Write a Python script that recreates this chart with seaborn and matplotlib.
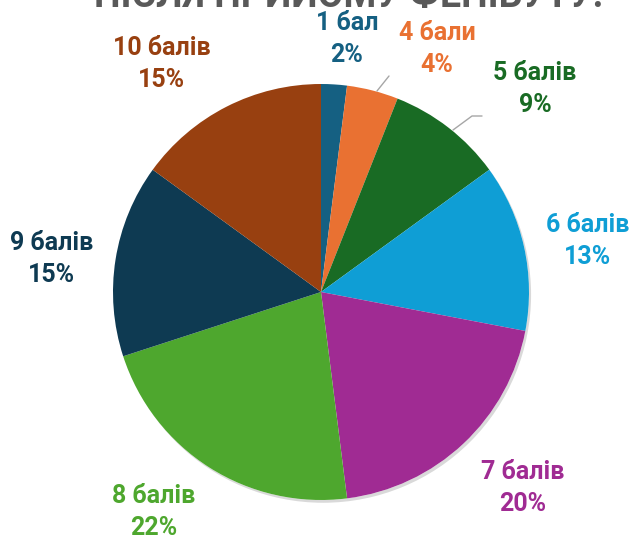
import matplotlib
matplotlib.use("Agg")
import matplotlib.pyplot as plt
import matplotlib.patheffects as pe
from matplotlib.patches import Circle
import seaborn as sns

sns.set_theme(style="white")
plt.rcParams["font.family"] = ["Roboto", "DejaVu Sans"]

# Scores and their shares (%), clockwise from 12 o'clock
categories = ["1 бал", "4 бали", "5 балів", "6 балів", "7 балів", "8 балів", "9 балів", "10 балів"]
shares = [2, 4, 9, 13, 20, 22, 15, 15]
colors = ["#156082", "#E97132", "#196B24", "#0F9ED5", "#A02B93", "#4EA72E", "#0E3A52", "#984010"]
title = "ПІСЛЯ ПРИЙОМУ ФЕНІБУТУ:"

W, H = 633, 539
fig = plt.figure(figsize=(W / 100, H / 100), dpi=100)
ax = fig.add_axes([0, 0, 1, 1])

cx, cy, r = 321, H - 292, 208

# soft drop shadow under the whole pie
shadow = Circle((cx, cy), r, facecolor="white", edgecolor="none", zorder=0)
shadow.set_path_effects([
    pe.SimplePatchShadow(offset=(1.5, -2), shadow_rgbFace="#000000", alpha=0.15),
    pe.Normal(),
])
ax.add_patch(shadow)

ax.pie(
    shares, colors=colors, startangle=90, counterclock=False,
    center=(cx, cy), radius=r, frame=True,
    wedgeprops=dict(linewidth=0.3, edgecolor="none", antialiased=True),
)
ax.set_xlim(0, W)
ax.set_ylim(0, H)
ax.set_aspect("equal")
ax.axis("off")

# label centres, in pixel units from the top-left
label_pos = [(347, 39), (437, 49), (535, 89), (588, 241),
             (523, 488), (154, 512), (52, 259), (162, 64)]
for name, val, col, (x, y) in zip(categories, shares, colors, label_pos):
    ax.text(x, H - y, f"{name}\n{val}%", color=col, fontsize=18, fontweight="bold",
            ha="center", va="center", linespacing=1.45)

# leader lines for the two narrow slices
ax.plot([377, 389], [H - 91, H - 76], color="#A6A6A6", lw=1)
ax.plot([453, 472, 482], [H - 130, H - 116, H - 116], color="#A6A6A6", lw=1)

ax.text(349, H - 7, title, color="#595959", fontsize=27, fontweight="bold",
        ha="center", va="baseline")

fig.savefig("out.png", dpi=100)
